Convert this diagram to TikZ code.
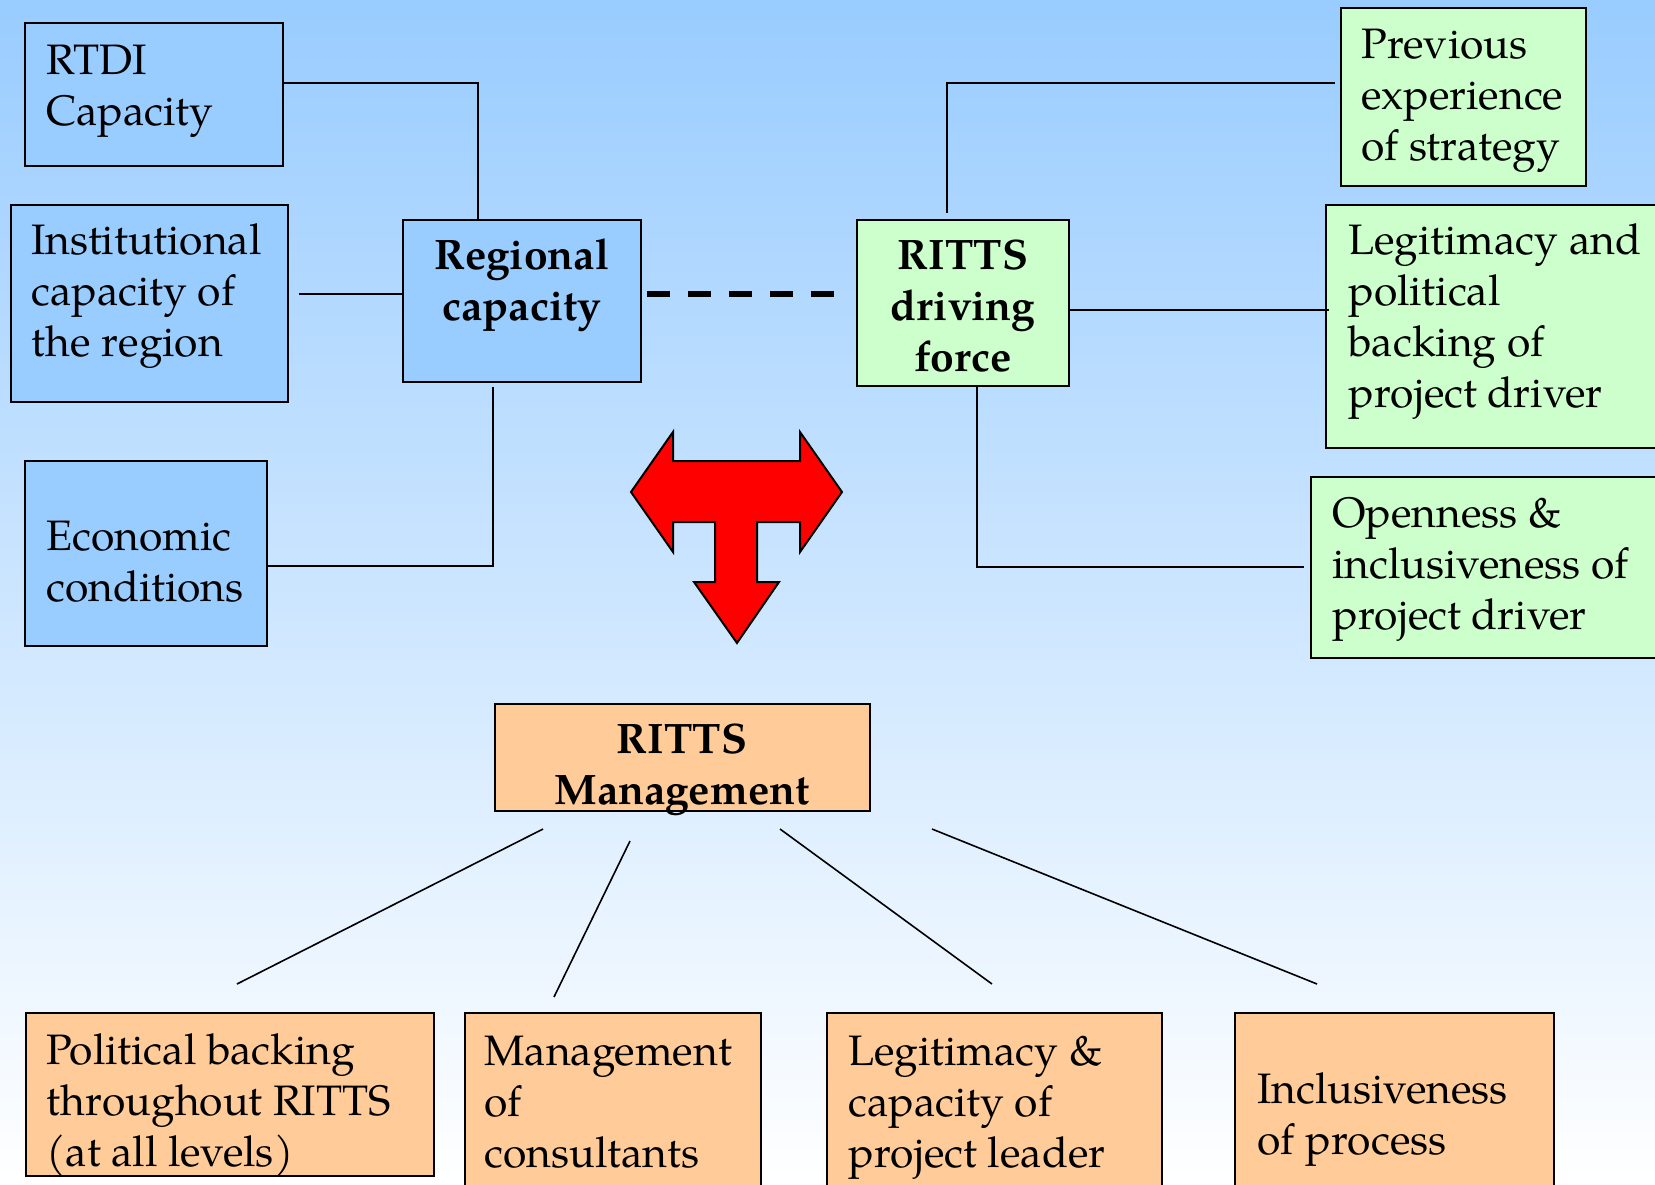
\documentclass[tikz,border=0pt]{standalone}
\usepackage{fontspec}
\setmainfont{texgyrepagella}[Extension=.otf, UprightFont=*-regular, BoldFont=*-bold, ItalicFont=*-italic, BoldItalicFont=*-bolditalic]
\usetikzlibrary{fit,calc}
\definecolor{bgtop}{HTML}{99CCFF}
\definecolor{bluefill}{HTML}{99CCFF}
\definecolor{greenfill}{HTML}{CCFFCC}
\definecolor{orangefill}{HTML}{FFCC99}
\definecolor{arrowred}{HTML}{FF0000}
\begin{document}
\begin{tikzpicture}[x=0.5pt,y=-0.5pt,
  box/.style={draw=black, line width=1pt, inner sep=0pt, rectangle},
  bluebox/.style={box, fill=bluefill},
  greenbox/.style={box, fill=greenfill},
  orangebox/.style={box, fill=orangefill},
  txt/.style={font=\fontsize{21.3}{25.5}\selectfont, align=left, inner sep=0pt, anchor=base west},
  btxt/.style={font=\fontsize{21.3}{25.5}\selectfont\bfseries, align=center, inner sep=0pt, anchor=base},
  link/.style={draw=black, line width=0.8pt},
]
\useasboundingbox (0,0) rectangle (1655,1184);
\shade[top color=bgtop, bottom color=white] (0,0) rectangle (1655,1184);

% left blue boxes (text anchored at the baseline of its last line)
\node[bluebox, fit={(25,23) (283,166)}] (rtdi) {};
\node[txt] (rtdiT) at (46,125) {RTDI\\Capacity};
\node[bluebox, fit={(11,205) (288,402)}] (inst) {};
\node[txt] (instT) at (31,356) {Institutional\\capacity of\\the region};
\node[bluebox, fit={(25,461) (267,646)}] (econ) {};
\node[txt] (econT) at (46,601) {Economic\\conditions};
\node[bluebox, fit={(403,220) (641,382)}] (rc) {};
\node[btxt] (rcT) at (522,320) {Regional\\capacity};

% right green boxes
\node[greenbox, fit={(857,220) (1069,386)}] (df) {};
\node[btxt] (dfT) at (963,371) {RITTS\\driving\\force};
\node[greenbox, fit={(1341,8) (1586,186)}] (prev) {};
\node[txt] (prevT) at (1361,160) {Previous\\experience\\of strategy};
\node[greenbox, fit={(1326,205) (1665,448)}] (legit) {};
\node[txt] (legitT) at (1348,407) {Legitimacy and\\political\\backing of\\project driver};
\node[greenbox, fit={(1311,477) (1665,658)}] (open) {};
\node[txt] (openT) at (1332,629) {Openness \&\\inclusiveness of\\project driver};

% management
\node[orangebox, fit={(495,704) (870,811)}] (mgmt) {};
\node[btxt] (mgmtT) at (682,804) {RITTS\\Management};
\node[orangebox, fit={(26,1013) (434,1176)}] (pol) {};
\node[txt] (polT) at (46,1166) {Political backing\\throughout RITTS\\(at all levels)};
\node[orangebox, fit={(465,1013) (761,1200)}] (cons) {};
\node[txt] (consT) at (484,1167) {Management\\of\\consultants};
\node[orangebox, fit={(827,1013) (1162,1200)}] (leg2) {};
\node[txt] (leg2T) at (848,1167) {Legitimacy \&\\capacity of\\project leader};
\node[orangebox, fit={(1235,1013) (1554,1200)}] (incl) {};
\node[txt] (inclT) at (1257,1154) {Inclusiveness\\of process};

% connectors left
\draw[link] ($(rtdi.north east)+(0,61)$) -| ($(rc.north west)+(76,0)$);
\draw[link] ($(inst.north east)+(10,90)$) -- ($(rc.north west)+(0,75)$);
\draw[link] ($(rc.south west)+(91,4)$) |- ($(econ.north east)+(0,106)$);

% connectors right
\draw[link] ($(df.north west)+(91,-6)$) |- ($(prev.north west)+(-5,76)$);
\draw[link] ($(df.north east)+(0,91)$) -- ($(legit.north west)+(4,106)$);
\draw[link] ($(df.south west)+(121,0)$) |- ($(open.north west)+(-6,91)$);

% dashed link
\draw[line width=2.8pt, dash pattern=on 11.5pt off 9pt, shorten <=2.5pt, shorten >=9pt]
  ($(rc.north east)+(0,75)$) -- ($(df.north west)+(0,75)$);

% management links
\draw[link] ($(mgmt.south west)+(49,17)$) -- ($(pol.north west)+(212,-28)$);
\draw[link] ($(mgmt.south west)+(136,29)$) -- ($(cons.north west)+(90,-15)$);
\draw[link] ($(mgmt.south west)+(286,17)$) -- ($(leg2.north west)+(166,-28)$);
\draw[link] ($(mgmt.south west)+(438,17)$) -- ($(incl.north west)+(83,-28)$);

% red T arrow
\draw[fill=arrowred, draw=black, line width=1pt, line join=miter]
  (631,492) -- (673,432) -- (673,461) -- (800,461) -- (800,432) -- (842,492)
  -- (800,552) -- (800,522) -- (757,522) -- (757,582) -- (779,582) -- (737,643)
  -- (694,582) -- (715,582) -- (715,522) -- (673,522) -- (673,552) -- cycle;
\end{tikzpicture}
\end{document}
